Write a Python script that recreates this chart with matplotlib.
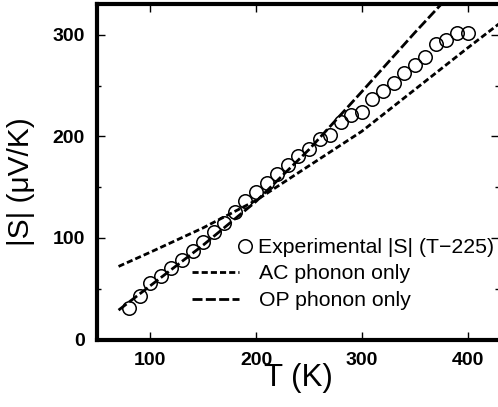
import numpy as np
import matplotlib
matplotlib.use("Agg")
import matplotlib.pyplot as plt

plt.rcParams['font.family'] = ['Liberation Sans', 'DejaVu Sans']

# experimental |S| (T-225)
T_exp = [80, 90, 100, 110, 120, 130, 140, 150, 160, 170, 180, 190, 200,
         210, 220, 230, 240, 250, 260, 270, 280, 290, 300, 310, 320, 330,
         340, 350, 360, 370, 380, 390, 400]
S_exp = [31, 43, 56, 63, 70, 78, 87, 96, 106, 115, 126, 136, 145,
         154, 163, 172, 181, 188, 197, 201, 214, 221, 224, 237, 245, 253,
         262, 270, 278, 291, 295, 302, 302]

# AC phonon only
T_ac = [70, 100, 150, 200, 250, 300, 350, 400, 430]
S_ac = [72, 86, 110, 137, 171, 205, 246, 287, 311]

# OP phonon only
T_op = [70, 100, 150, 200, 250, 300, 350, 375]
S_op = [29, 53, 93, 136, 187, 244, 302, 330]

fig = plt.figure(figsize=(4.98, 4.07), dpi=100)
ax = fig.add_axes([0.1956, 0.1656, 0.807, 0.8238])

l_ac, = ax.plot(T_ac, S_ac, color='black', lw=2.0, ls=(0, (2.2, 1.1)))
l_op, = ax.plot(T_op, S_op, color='black', lw=2.0, ls=(0, (3.6, 1.2)))
l_exp, = ax.plot(T_exp, S_exp, ls='', marker='o', markersize=9.7,
                 markerfacecolor='none', markeredgecolor='black', markeredgewidth=1.1)

ax.set_xlim(50, 430)
ax.set_ylim(0, 330)
ax.set_xticks([100, 200, 300, 400])
ax.set_yticks([0, 100, 200, 300])
ax.set_yticks([50, 150, 250], minor=True)

for side in ['left', 'top', 'bottom', 'right']:
    ax.spines[side].set_linewidth(3)

ax.tick_params(which='major', direction='in', length=6, width=1, top=True, right=True,
               labelsize=14, pad=9)
ax.tick_params(which='minor', direction='in', length=3, width=1, top=True, right=True)
for lab in ax.get_xticklabels() + ax.get_yticklabels():
    lab.set_fontweight('bold')

ax.set_xlabel('T (K)', fontsize=22.5, ha='center', va='center')
ax.set_ylabel('|S| (\u03bcV/K)', fontsize=21.5, ha='center', va='center')
ax.xaxis.set_label_coords(0.501, -0.116)
ax.yaxis.set_label_coords(-0.19, 0.47)

# legend: circle entry and line entries are offset differently
leg1 = fig.legend([l_exp], ['Experimental |S| (T\u2212225)'],
                  loc='upper left', bbox_to_anchor=(238.5 / 498, 1 - 238 / 407),
                  frameon=False, fontsize=15.3, handlelength=0.6, handletextpad=0.32,
                  borderpad=0, borderaxespad=0)
leg2 = fig.legend([l_ac, l_op], ['AC phonon only', 'OP phonon only'],
                  loc='upper left', bbox_to_anchor=(192 / 498, 1 - 264 / 407),
                  frameon=False, fontsize=15.3, handlelength=2.2, handletextpad=0.96,
                  labelspacing=0.38, borderpad=0, borderaxespad=0)

fig.savefig('out.png', dpi=100)
